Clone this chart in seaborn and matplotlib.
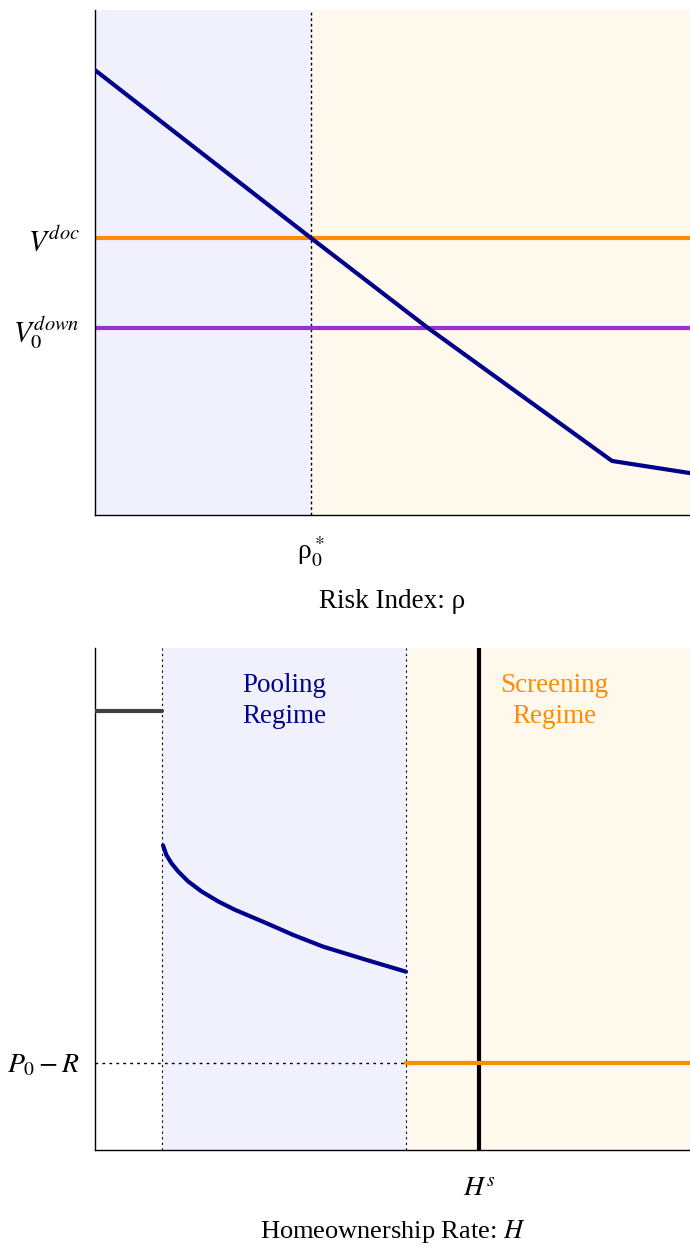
import matplotlib
matplotlib.use("Agg")
import matplotlib.pyplot as plt
import pandas as pd
import seaborn as sns

# ---- top panel data (risk index) ----
rho = [0.0, 0.363, 0.560, 0.869, 1.0]
value_rho = [0.881, 0.5485, 0.370, 0.107, 0.083]
rho_star = 0.363
v_doc = 0.5485
v_down = 0.370

# ---- bottom panel data (homeownership rate) ----
h_pool = [0.1143, 0.1198, 0.1282, 0.1395, 0.1563, 0.1787, 0.2067, 0.2348,
          0.2886, 0.3333, 0.3837, 0.4566, 0.5227]
price_pool = [0.6070, 0.5882, 0.5717, 0.5552, 0.5353, 0.5153, 0.4954, 0.4787,
              0.4516, 0.4283, 0.4050, 0.3785, 0.3552]
h_low = [0.0, 0.1126]
price_low = [0.8745, 0.8745]
h_screen = [0.5227, 1.0]
price_screen = [0.1733, 0.1733]
h_bounds = [0.1126, 0.5227]
h_s = 0.6454
p0_minus_r = 0.1733

NAVY = "#00008b"
ORANGE = "#ff8c00"
PURPLE = "#9932cc"
BLUE_BG = "#f1f1fd"
ORANGE_BG = "#fef8ed"

sns.set_style("white")
plt.rcParams["font.family"] = ["Liberation Serif", "DejaVu Sans"]
plt.rcParams["mathtext.fontset"] = "stix"
for key in ("text.color", "axes.labelcolor", "xtick.color", "ytick.color"):
    plt.rcParams[key] = "black"

fig = plt.figure(figsize=(6.9, 12.47), dpi=100)
ax1 = fig.add_axes([95 / 690, 1 - 515 / 1247, 595 / 690, 505 / 1247])
ax2 = fig.add_axes([95 / 690, 1 - 1150 / 1247, 595 / 690, 502 / 1247])

# --- top panel ---
ax1.axvspan(0, rho_star, color=BLUE_BG, lw=0, zorder=0)
ax1.axvspan(rho_star, 1, color=ORANGE_BG, lw=0, zorder=0)
ax1.axvline(rho_star, color="black", ls=(0, (2, 2)), lw=1, zorder=1)
ax1.axhline(v_doc, color=ORANGE, lw=3, zorder=2)
ax1.axhline(v_down, color=PURPLE, lw=3, zorder=2)
top_df = pd.DataFrame({"rho": rho, "value": value_rho})
sns.lineplot(data=top_df, x="rho", y="value", ax=ax1, color=NAVY, lw=3, zorder=3)
ax1.set_xlim(0, 1)
ax1.set_ylim(0, 1)
ax1.set_xticks([rho_star])
ax1.set_xticklabels([r"ρ$_0^*$"], fontsize=20)
ax1.set_yticks([v_doc, v_down])
ax1.set_yticklabels([r"$V^{doc}$", r"$V_0^{down}$"], fontsize=21)
ax1.tick_params(axis="x", length=0, pad=14)
ax1.tick_params(axis="y", length=0, pad=11)
ax1.set_xlabel("Risk Index: ρ", fontsize=19.5, labelpad=15)
ax1.set_ylabel("")

# --- bottom panel ---
ax2.axvspan(h_bounds[0], h_bounds[1], color=BLUE_BG, lw=0, zorder=0)
ax2.axvspan(h_bounds[1], 1, color=ORANGE_BG, lw=0, zorder=0)
for hb in h_bounds:
    ax2.axvline(hb, color="black", ls=(0, (2, 3)), lw=0.8, zorder=1)
ax2.plot([0, h_bounds[1]], [p0_minus_r, p0_minus_r], color="black",
         ls=(0, (2, 3)), lw=1, zorder=1)
ax2.axvline(h_s, color="black", lw=3, zorder=2)
sns.lineplot(x=h_low, y=price_low, ax=ax2, color="#404040", lw=3, zorder=3)
sns.lineplot(x=h_pool, y=price_pool, ax=ax2, color=NAVY, lw=3, zorder=3)
sns.lineplot(x=h_screen, y=price_screen, ax=ax2, color=ORANGE, lw=3, zorder=3)
ax2.text(sum(h_bounds) / 2, 0.895, "Pooling\nRegime", color=NAVY, fontsize=19.5,
         ha="center", va="center", linespacing=1.3)
ax2.text((h_bounds[1] + 1) / 2 + 0.01, 0.895, "Screening\nRegime", color=ORANGE,
         fontsize=19.5, ha="center", va="center", linespacing=1.3)
ax2.set_xlim(0, 1)
ax2.set_ylim(0, 1)
ax2.set_xticks([h_s])
ax2.set_xticklabels([r"$H^s$"], fontsize=20)
ax2.set_yticks([p0_minus_r])
ax2.set_yticklabels([r"$P_0 - R$"], fontsize=20)
ax2.tick_params(axis="x", length=0, pad=20)
ax2.tick_params(axis="y", length=0, pad=11)
ax2.set_xlabel(r"Homeownership Rate: $H$", fontsize=19, labelpad=11)
ax2.set_ylabel("")

for ax in (ax1, ax2):
    sns.despine(ax=ax)
    for s in ("left", "bottom"):
        ax.spines[s].set_color("black")
        ax.spines[s].set_linewidth(1)

fig.savefig("out.png", dpi=100)
